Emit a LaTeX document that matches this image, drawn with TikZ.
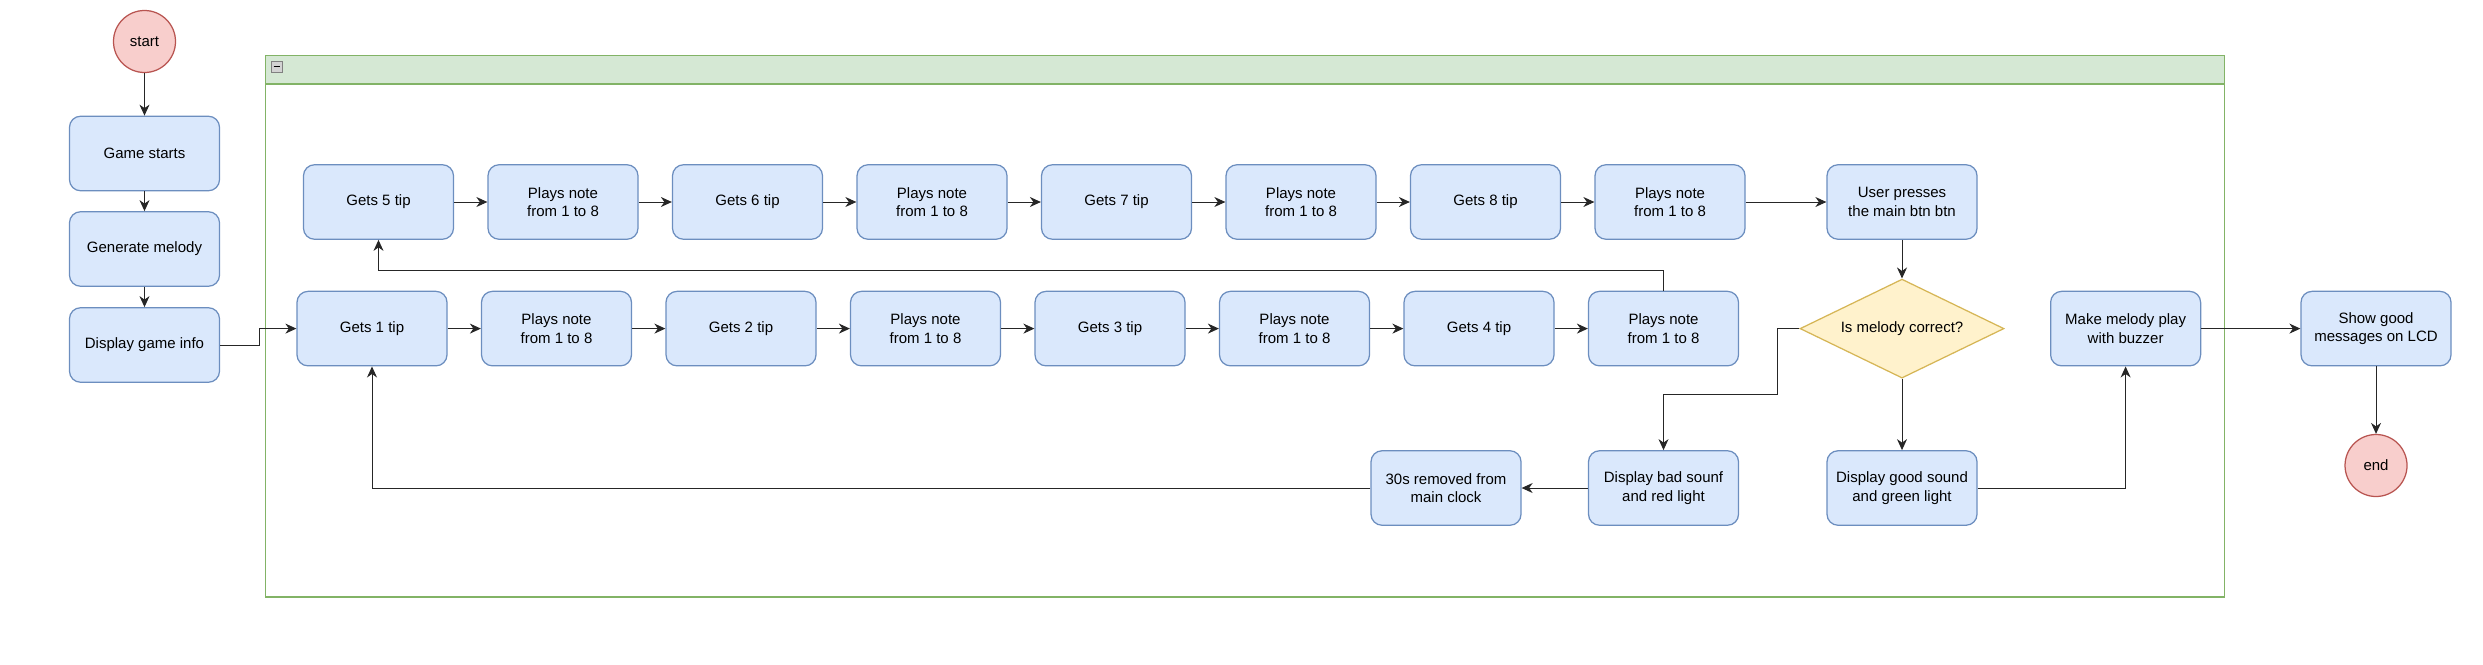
\documentclass[tikz,border=0pt]{standalone}
\usepackage{fontspec}
\setmainfont{Liberation Sans}
\usetikzlibrary{arrows.meta,shapes.geometric}
\usepackage{xcolor}
\definecolor{boxfill}{HTML}{DAE8FC}
\definecolor{boxline}{HTML}{6C8EBF}
\definecolor{termfill}{HTML}{F8CECC}
\definecolor{termline}{HTML}{B85450}
\definecolor{testfill}{HTML}{FFF2CC}
\definecolor{testline}{HTML}{D6B656}
\definecolor{grpfill}{HTML}{D5E8D4}
\definecolor{grpline}{HTML}{82B366}

\tikzset{
    txt/.style={font=\fontsize{15}{18.5}\selectfont, align=center, text=black},
    box/.style={txt, draw=boxline, fill=boxfill, line width=1.25pt, rounded corners=11pt,
        minimum width=150pt, minimum height=74.5pt, inner sep=0pt},
    term/.style={txt, circle, draw=termline, fill=termfill, line width=1.25pt,
        minimum size=62pt, inner sep=0pt},
    test/.style={txt, diamond, draw=testline, fill=testfill, line width=1.25pt,
        minimum width=204pt, minimum height=99pt, inner sep=0pt, aspect=2.06},
    link/.style={draw=black!85, line width=1pt, -{Stealth[length=11pt,width=10pt,inset=3.5pt]}}
}

\begin{document}
\begin{tikzpicture}[x=1pt, y=-1pt]
    \useasboundingbox (0,0) rectangle (2483,664);

    % container
    \draw[draw=grpline, line width=1.25pt] (265.5,55.5) rectangle (2224.5,597);
    \draw[draw=grpline, fill=grpfill, line width=1.25pt] (265.5,55.5) rectangle (2224.5,84);
    \draw[draw=gray, fill=gray!35] (271,61) rectangle (282,72);
    \draw[line width=1pt] (273.5,66.5) -- (279.5,66.5);

    \node[term] (start) at (144.5,41.5) {start};
    \node[box] (game) at (144.5,153.5) {Game starts};
    \node[box] (melody) at (144.5,249) {Generate melody};
    \node[box] (info) at (144.5,345) {Display game info};

    % upper row
    \node[box] (tip5) at (378.5,202) {Gets 5 tip};
    \node[box] (note5) at (563,202) {Plays note\\from 1 to 8};
    \node[box] (tip6) at (747.5,202) {Gets 6 tip};
    \node[box] (note6) at (932,202) {Plays note\\from 1 to 8};
    \node[box] (tip7) at (1116.5,202) {Gets 7 tip};
    \node[box] (note7) at (1301,202) {Plays note\\from 1 to 8};
    \node[box] (tip8) at (1485.5,202) {Gets 8 tip};
    \node[box] (note8) at (1670,202) {Plays note\\from 1 to 8};
    \node[box] (press) at (1902,202) {User presses\\the main btn btn};

    % lower row
    \node[box] (tip1) at (372,328.6) {Gets 1 tip};
    \node[box] (note1) at (556.5,328.6) {Plays note\\from 1 to 8};
    \node[box] (tip2) at (741,328.6) {Gets 2 tip};
    \node[box] (note2) at (925.5,328.6) {Plays note\\from 1 to 8};
    \node[box] (tip3) at (1110,328.6) {Gets 3 tip};
    \node[box] (note3) at (1294.5,328.6) {Plays note\\from 1 to 8};
    \node[box] (tip4) at (1479,328.6) {Gets 4 tip};
    \node[box] (note4) at (1663.5,328.6) {Plays note\\from 1 to 8};
    \node[test] (check) at (1902,328.6) {Is melody correct?};
    \node[box] (buzz) at (2125.6,328.6) {Make melody play\\with buzzer};
    \node[box] (lcd) at (2376,328.6) {Show good\\messages on LCD};
    \node[term] (end) at (2376,465.5) {end};

    \node[box] (remove) at (1446,488) {30s removed from\\main clock};
    \node[box] (bad) at (1663.5,488) {Display bad sounf\\and red light};
    \node[box] (good) at (1902,488) {Display good sound\\and green light};

    \draw[link] (start) -- (game);
    \draw[link] (game) -- (melody);
    \draw[link] (melody) -- (info);
    \draw[link] (info.east) -- ++(39,0) |- (tip1.west);

    \draw[link] (tip5) -- (note5);
    \draw[link] (note5) -- (tip6);
    \draw[link] (tip6) -- (note6);
    \draw[link] (note6) -- (tip7);
    \draw[link] (tip7) -- (note7);
    \draw[link] (note7) -- (tip8);
    \draw[link] (tip8) -- (note8);
    \draw[link] (note8) -- (press);

    \draw[link] (tip1) -- (note1);
    \draw[link] (note1) -- (tip2);
    \draw[link] (tip2) -- (note2);
    \draw[link] (note2) -- (tip3);
    \draw[link] (tip3) -- (note3);
    \draw[link] (note3) -- (tip4);
    \draw[link] (tip4) -- (note4);
    \draw[link] (note4.north) -- ++(0,-20) -| (tip5.south);

    \draw[link] (press) -- (check);
    \draw[link] (check.west) -- ++(-22,0) -- ++(0,66) -| (bad.north);
    \draw[link] (check) -- (good);
    \draw[link] (good.east) -| (buzz.south);
    \draw[link] (buzz) -- (lcd);
    \draw[link] (lcd) -- (end);
    \draw[link] (bad) -- (remove);
    \draw[link] (remove.west) -| (tip1.south);
\end{tikzpicture}
\end{document}
